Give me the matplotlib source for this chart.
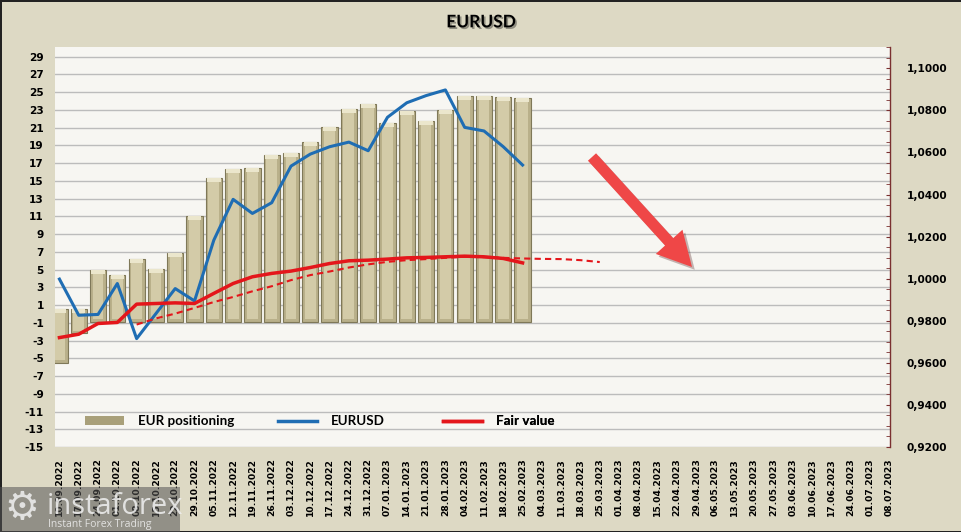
import numpy as np
import matplotlib
matplotlib.use("Agg")
import matplotlib.pyplot as plt
import matplotlib.patheffects as pe
from matplotlib.patches import Patch, Rectangle, FancyArrow
from matplotlib.lines import Line2D
from matplotlib.ticker import MultipleLocator, FuncFormatter

plt.rcParams["axes.unicode_minus"] = False

# weekly dates on the category axis
dates = ["10.09.2022", "17.09.2022", "24.09.2022", "01.10.2022", "08.10.2022",
         "15.10.2022", "22.10.2022", "29.10.2022", "05.11.2022", "12.11.2022",
         "19.11.2022", "26.11.2022", "03.12.2022", "10.12.2022", "17.12.2022",
         "24.12.2022", "31.12.2022", "07.01.2023", "14.01.2023", "21.01.2023",
         "28.01.2023", "04.02.2023", "11.02.2023", "18.02.2023", "25.02.2023",
         "04.03.2023", "11.03.2023", "18.03.2023", "25.03.2023", "01.04.2023",
         "08.04.2023", "15.04.2023", "22.04.2023", "29.04.2023", "06.05.2023",
         "13.05.2023", "20.05.2023", "27.05.2023", "03.06.2023", "10.06.2023",
         "17.06.2023", "24.06.2023", "01.07.2023", "08.07.2023"]

# EUR positioning columns (top / bottom of each column)
pos_top = [0.6, 0.6, 5.0, 4.4, 6.2, 5.1, 6.9, 11.0, 15.3, 16.3, 16.5, 17.9, 18.2,
           19.4, 21.1, 23.1, 23.7, 21.5, 22.9, 21.8, 23.0, 24.6, 24.6, 24.5, 24.3]
pos_bottom = [-5.5, -2.2, -0.9, -0.9, -0.9, -0.9, -0.9, -0.9, -0.9, -0.9, -0.9,
              -0.9, -0.9, -0.9, -0.9, -0.9, -0.9, -0.9, -0.9, -0.9, -0.9, -0.9,
              -0.9, -0.9, -0.9]

eurusd = [0.9998, 0.9826, 0.9830, 0.9977, 0.9715, 0.9834, 0.9953, 0.9894, 1.0183,
          1.0377, 1.0310, 1.0361, 1.0535, 1.0592, 1.0627, 1.0649, 1.0608, 1.0767,
          1.0836, 1.0870, 1.0897, 1.0719, 1.0702, 1.0627, 1.0540]

fair_value = [0.9720, 0.9736, 0.9787, 0.9792, 0.9879, 0.9882, 0.9885, 0.9882,
              0.9930, 0.9977, 1.0009, 1.0025, 1.0036, 1.0053, 1.0072, 1.0085,
              1.0088, 1.0093, 1.0099, 1.0101, 1.0104, 1.0107, 1.0104, 1.0096,
              1.0075]

# fair value trend, starts at week index 4
trend_start = 4
fair_trend = [0.9782, 0.9811, 0.9834, 0.9861, 0.9889, 0.9913, 0.9940, 0.9964,
              0.9993, 1.0017, 1.0034, 1.0053, 1.0068, 1.0080, 1.0088, 1.0093,
              1.0099, 1.0104, 1.0102, 1.0099, 1.0096, 1.0094, 1.0093, 1.0088,
              1.0079]

bg = "#ddd9c4"
plot_bg = "#f7f6f2"
blue = "#1f6db3"
red = "#e4161b"

fig = plt.figure(figsize=(9.62, 5.32), dpi=100, facecolor=bg)
fig.patch.set_edgecolor("#222222")
fig.patch.set_linewidth(2)

ax = fig.add_axes([55 / 962, 85 / 532, 835 / 962, 400 / 532])
ax.set_facecolor(plot_bg)
ax2 = ax.twinx()

x = np.arange(len(dates))
xb = x[:len(pos_top)]
top = np.array(pos_top)
bot = np.array(pos_bottom)

# columns with a simple bevel look
ax.bar(xb, top - bot, bottom=bot, width=0.84, color="#b9b08a",
       edgecolor="#7f7858", linewidth=0.8, zorder=2)
ax.bar(xb, top - bot - 0.6, bottom=bot + 0.3, width=0.56, color="#d3cba8",
       linewidth=0, zorder=3)
ax.bar(xb, np.full(len(xb), 0.45), bottom=top - 0.45, width=0.7,
       color="#ebe6cc", linewidth=0, zorder=3)

ax.set_ylim(-15, 30.1)
ax.set_xlim(-0.23, 43.04)
ax.yaxis.set_major_locator(MultipleLocator(2, offset=1))
ax.grid(axis="y", color="#bcbcbc", linewidth=1, zorder=0)
ax.set_axisbelow(True)
ax.set_xticks(x)
ax.set_xticklabels(dates, rotation=90, fontsize=6.6, fontweight="bold",
                   family="DejaVu Sans")
ax.tick_params(axis="x", length=0, pad=8)
ax.tick_params(axis="y", length=0, pad=8, labelsize=7.6)
for lab in ax.get_yticklabels():
    lab.set_fontweight("bold")
for s in ax.spines.values():
    s.set_visible(False)

ax2.plot(xb, eurusd, color=blue, linewidth=2.2, zorder=5)
ax2.plot(xb, fair_value, color=red, linewidth=2.5, zorder=6)
ax2.plot(np.arange(trend_start, trend_start + len(fair_trend)), fair_trend,
         color=red, linewidth=1.5, linestyle=(0, (3, 2)), zorder=6)
ax2.set_ylim(0.92, 1.1101)
ax2.set_yticks(np.arange(0.92, 1.1001, 0.02))
ax2.yaxis.set_minor_locator(MultipleLocator(0.005))
ax2.yaxis.set_major_formatter(FuncFormatter(lambda v, p: f"{v:.4f}".replace(".", ",")))
ax2.tick_params(axis="y", which="both", direction="in", color="#7a3030",
                length=3, pad=12, labelsize=7.6)
for lab in ax2.get_yticklabels():
    lab.set_fontweight("bold")
for k, s in ax2.spines.items():
    s.set_visible(k == "right")
ax2.spines["right"].set_color("#7a3030")
ax2.spines["right"].set_linewidth(1)
ax.set_zorder(ax2.get_zorder() - 1)
ax2.patch.set_visible(False)

# legend, one entry per box so spacing matches
leg_font = {"family": "Lato", "weight": "bold", "size": 9.6}
entries = [
    (Patch(facecolor="#a9a07a", edgecolor="none"), "EUR positioning", 0.036),
    (Line2D([], [], color=blue, linewidth=2.5), "EURUSD", 0.267),
    (Line2D([], [], color=red, linewidth=2.5), "Fair value", 0.465),
]
for h, lbl, xa in entries:
    lg = ax.legend([h], [lbl], loc="center left", bbox_to_anchor=(xa, 0.064),
                   frameon=False, prop=leg_font, handlelength=2.9,
                   handletextpad=1.05, borderaxespad=0, borderpad=0,
                   handleheight=0.6)
    ax.add_artist(lg)

fig.text(0.5, 0.958, "EURUSD", ha="center", va="center", fontsize=12.5,
         family="Lato", fontweight="bold",
         path_effects=[pe.withSimplePatchShadow(offset=(1.2, -1.2), alpha=0.35)])

# big red arrow, drawn in inches so it keeps its shape
arr = FancyArrow(5.92, 3.75, 1.0, -1.10, width=0.11, head_width=0.36,
                 head_length=0.34, length_includes_head=True,
                 transform=fig.dpi_scale_trans, color="#ef4747", linewidth=0,
                 path_effects=[pe.withSimplePatchShadow(offset=(2, -2), alpha=0.3)])
fig.add_artist(arr)

# watermark
fig.add_artist(Rectangle((0, 0), 180 / 962, 45 / 532, transform=fig.transFigure,
                         facecolor="#555555", alpha=0.55, linewidth=0))
fig.text(4 / 962, 24 / 532, "\u2699", fontsize=28, color="#f0f0f0", alpha=0.85,
         va="center", family="DejaVu Sans")
fig.text(47 / 962, 25 / 532, "instaforex", fontsize=21, color="#f0f0f0",
         alpha=0.85, va="center", family="Open Sans")
fig.text(48 / 962, 7 / 532, "Instant Forex Trading", fontsize=7.5,
         color="#f0f0f0", alpha=0.85, va="center", family="Open Sans")

fig.savefig("out.png", dpi=100, facecolor=bg, edgecolor="#222222")
